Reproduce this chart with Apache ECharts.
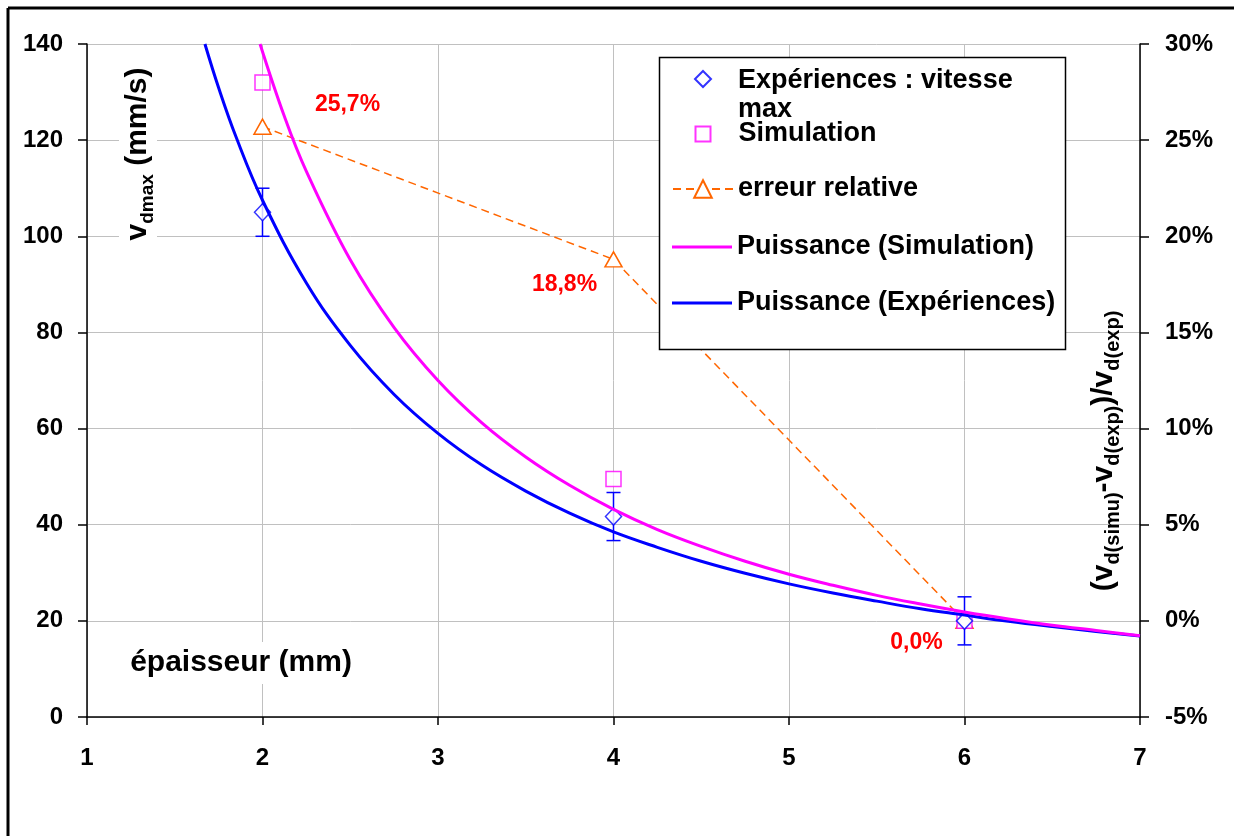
<!DOCTYPE html>
<html>
<head>
<meta charset="utf-8">
<script src="https://cdn.jsdelivr.net/npm/echarts@6/dist/echarts.min.js"></script>
<style>
html,body{margin:0;padding:0;background:#fff;}
#chart{width:1234px;height:836px;}
</style>
</head>
<body>
<div id="chart"></div>
<script>
// ---- data ----
const xTicks = [1, 2, 3, 4, 5, 6, 7];
const expX = [2, 4, 6];
const expY = [105, 41.7, 20];
const expLow = [100, 36.7, 15];
const expHigh = [110, 46.7, 25];
const simX = [2, 4, 6];
const simY = [132, 49.5, 20];
const errX = [2, 4, 6];
const errY = [25.7, 18.8, 0.0];
// power trend curves
const trendExpX = [1.672, 1.75, 1.85, 2, 2.25, 2.5, 2.75, 3, 3.25, 3.5, 3.75, 4, 4.25, 4.5, 4.75, 5, 5.25, 5.5, 5.75, 6, 6.25, 6.5, 6.75, 7];
const trendExpY = [140, 130.9, 120.6, 107.5, 90.3, 77.3, 67.1, 59.0, 52.4, 47.0, 42.4, 38.5, 35.3, 32.4, 29.9, 27.7, 25.8, 24.1, 22.5, 21.2, 19.9, 18.8, 17.8, 16.85];
const trendSimX = [1.986, 2.125, 2.25, 2.5, 2.75, 3, 3.25, 3.5, 3.75, 4, 4.25, 4.5, 4.75, 5, 5.25, 5.5, 5.75, 6, 6.25, 6.5, 6.75, 7];
const trendSimY = [140, 124.9, 113.5, 95.1, 81.0, 70.0, 61.2, 54.1, 48.2, 43.2, 39.0, 35.5, 32.4, 29.7, 27.4, 25.3, 23.5, 21.85, 20.4, 19.1, 18.0, 16.9];

const NAME_EXP = 'Expériences : vitesse max';
const NAME_SIM = 'Simulation';
const NAME_ERR = 'erreur relative';
const NAME_PSIM = 'Puissance (Simulation)';
const NAME_PEXP = 'Puissance (Expériences)';

const zip = (a, b) => a.map((v, i) => [v, b[i]]);
const FONT = '"Liberation Sans", Arial, sans-serif';
const BLUE = '#0000ff', MAG = '#ff00ff', ORANGE = '#ff6600', RED = '#ff0000';

const errLabelOffsets = [[85, -22], [-49, 25], [-48, 22]];

const legendText = {color: '#000', fontFamily: FONT, fontWeight: 'bold', fontSize: 27, lineHeight: 29};
// diamond icon drawn in the upper part of a 16x58 box (aligned with the first text line)
const DIAMOND_TOP_ICON = 'path://M0,0M16,58M8,4.5L16,12.5L8,20.5L0,12.5Z';

const chart = echarts.init(document.getElementById('chart'), null, {renderer: 'canvas'});
chart.setOption({
  backgroundColor: '#fff',
  animation: false,
  grid: {left: 87, right: 94, top: 44, bottom: 119, containLabel: false},
  xAxis: {
    type: 'value', min: xTicks[0], max: xTicks[xTicks.length - 1], interval: 1,
    axisLine: {lineStyle: {color: '#000', width: 1.5}},
    axisTick: {show: true, length: 8, lineStyle: {color: '#000', width: 1.5}},
    axisLabel: {margin: 29, color: '#000', fontFamily: FONT, fontWeight: 'bold', fontSize: 24},
    splitLine: {show: true, lineStyle: {color: '#c0c0c0', width: 1}}
  },
  yAxis: [{
    type: 'value', min: 0, max: 140, interval: 20, position: 'left',
    axisLine: {show: true, lineStyle: {color: '#000', width: 1.5}},
    axisTick: {show: true, length: 9, lineStyle: {color: '#000', width: 1.5}},
    axisLabel: {margin: 24, color: '#000', fontFamily: FONT, fontWeight: 'bold', fontSize: 24},
    splitLine: {show: true, lineStyle: {color: '#c0c0c0', width: 1}}
  }, {
    type: 'value', min: -5, max: 30, interval: 5, position: 'right',
    axisLine: {show: true, lineStyle: {color: '#000', width: 1.5}},
    axisTick: {show: true, length: 9, lineStyle: {color: '#000', width: 1.5}},
    axisLabel: {margin: 25, color: '#000', fontFamily: FONT, fontWeight: 'bold', fontSize: 24, formatter: '{value}%'},
    splitLine: {show: false}
  }],
  legend: [{
    data: [{name: NAME_EXP, icon: DIAMOND_TOP_ICON}], orient: 'vertical', left: 694, top: 65.5, padding: 0,
    itemWidth: 16, itemHeight: 58, selectedMode: false,
    textStyle: Object.assign({}, legendText, {padding: [0, 0, 0, 22]}),
    formatter: () => 'Expériences : vitesse\nmax'
  }, {
    data: [{name: NAME_SIM, icon: 'rect'}], orient: 'vertical', left: 694.5, top: 119.5, padding: 0,
    itemWidth: 15, itemHeight: 15, selectedMode: false,
    textStyle: Object.assign({}, legendText, {padding: [0, 0, 0, 23]})
  }, {
    data: [NAME_ERR], orient: 'vertical', left: 672, top: 174.5, padding: 0,
    itemWidth: 60, itemHeight: 22, selectedMode: false, textStyle: legendText
  }, {
    data: [{name: NAME_PSIM, icon: 'rect'}, {name: NAME_PEXP, icon: 'rect'}], orient: 'vertical', left: 672, top: 232.5, padding: 0,
    itemWidth: 60, itemHeight: 3, itemGap: 27, selectedMode: false, textStyle: legendText
  }],
  graphic: [
    {type: 'line', z: 10, shape: {x1: 8, y1: 8, x2: 1234, y2: 8}, style: {stroke: '#000', lineWidth: 3}},
    {type: 'line', z: 10, shape: {x1: 8, y1: 8, x2: 8, y2: 836}, style: {stroke: '#000', lineWidth: 3}},
    {type: 'rect', z: 3, shape: {x: 659.5, y: 57.5, width: 406, height: 292}, style: {fill: '#fff', stroke: '#000', lineWidth: 1.5}},
    {type: 'text', z: 5, x: 241, y: 663, style: {
      text: 'épaisseur (mm)', fill: '#000', font: 'bold 30px ' + FONT,
      align: 'center', verticalAlign: 'middle', backgroundColor: '#fff', padding: [6, 6]
    }},
    {type: 'text', z: 5, x: 138, y: 154, rotation: Math.PI / 2, style: {
      text: '{m|v}{s|dmax}{m| (mm/s)}', align: 'center', verticalAlign: 'middle',
      backgroundColor: '#fff', padding: [0, 8],
      rich: {
        m: {fontFamily: FONT, fontWeight: 'bold', fontSize: 30, lineHeight: 38, fill: '#000', verticalAlign: 'middle'},
        s: {fontFamily: FONT, fontWeight: 'bold', fontSize: 19, lineHeight: 20, fill: '#000', verticalAlign: 'bottom'}
      }
    }},
    {type: 'text', z: 5, x: 1104, y: 451, rotation: Math.PI / 2, style: {
      text: '{m|(v}{s|d(simu)}{m|-v}{s|d(exp)}{m|)/v}{s|d(exp)}', align: 'center', verticalAlign: 'middle',
      rich: {
        m: {fontFamily: FONT, fontWeight: 'bold', fontSize: 30, lineHeight: 38, fill: '#000', verticalAlign: 'middle'},
        s: {fontFamily: FONT, fontWeight: 'bold', fontSize: 20, lineHeight: 22, fill: '#000', verticalAlign: 'bottom'}
      }
    }}
  ],
  series: [
    {
      name: NAME_PEXP, type: 'line', xAxisIndex: 0, yAxisIndex: 0, z: 3,
      data: zip(trendExpX, trendExpY), smooth: 0.4, showSymbol: false, symbol: 'none',
      lineStyle: {color: BLUE, width: 3}, itemStyle: {color: BLUE}
    },
    {
      name: NAME_PSIM, type: 'line', xAxisIndex: 0, yAxisIndex: 0, z: 3,
      data: zip(trendSimX, trendSimY), smooth: 0.4, showSymbol: false, symbol: 'none',
      lineStyle: {color: MAG, width: 3}, itemStyle: {color: MAG}
    },
    {
      name: 'errbars', type: 'custom', xAxisIndex: 0, yAxisIndex: 0, z: 2,
      data: expX.map((x, i) => [x, expLow[i], expHigh[i]]),
      renderItem: (params, api) => {
        const x = api.value(0);
        const lo = api.coord([x, api.value(1)]);
        const hi = api.coord([x, api.value(2)]);
        const w = 7;
        const st = {stroke: BLUE, lineWidth: 1.5};
        return {type: 'group', children: [
          {type: 'line', shape: {x1: lo[0], y1: lo[1], x2: hi[0], y2: hi[1]}, style: st},
          {type: 'line', shape: {x1: lo[0] - w, y1: lo[1], x2: lo[0] + w, y2: lo[1]}, style: st},
          {type: 'line', shape: {x1: hi[0] - w, y1: hi[1], x2: hi[0] + w, y2: hi[1]}, style: st}
        ]};
      }
    },
    {
      name: NAME_ERR, type: 'line', xAxisIndex: 0, yAxisIndex: 1, z: 2,
      data: errX.map((x, i) => ({
        value: [x, errY[i]],
        label: {offset: errLabelOffsets[i]}
      })),
      symbol: 'triangle', symbolSize: [17, 15], showSymbol: true,
      lineStyle: {color: ORANGE, width: 1.5, type: [8, 5]},
      itemStyle: {color: '#fff', borderColor: ORANGE, borderWidth: 1.5},
      label: {
        show: true, position: 'inside', color: RED, fontFamily: FONT, fontWeight: 'bold', fontSize: 23,
        formatter: p => p.value[1].toFixed(1).replace('.', ',') + '%'
      }
    },
    {
      name: NAME_SIM, type: 'scatter', xAxisIndex: 0, yAxisIndex: 0, z: 2,
      data: zip(simX, simY), symbol: 'rect', symbolSize: 15,
      itemStyle: {color: '#fff', borderColor: MAG, borderWidth: 1.5}
    },
    {
      name: NAME_EXP, type: 'scatter', xAxisIndex: 0, yAxisIndex: 0, z: 2,
      data: zip(expX, expY), symbol: 'diamond', symbolSize: [16, 17],
      itemStyle: {color: '#fff', borderColor: BLUE, borderWidth: 1.5}
    }
  ]
});
</script>
</body>
</html>
